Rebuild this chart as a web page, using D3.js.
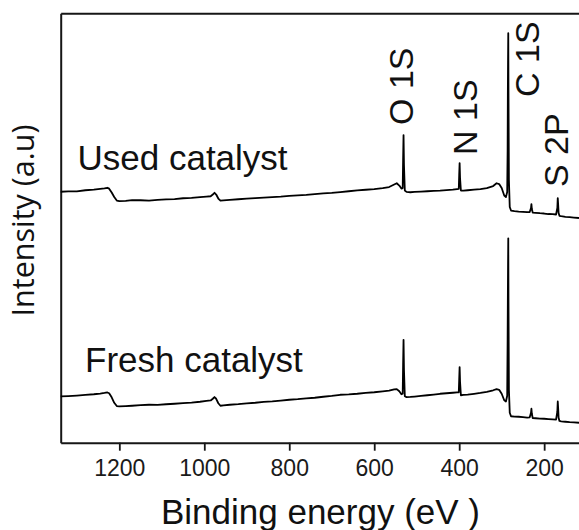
<!DOCTYPE html>
<html>
<head>
<meta charset="utf-8">
<script src="https://cdn.jsdelivr.net/npm/d3@7"></script>
<style>
  html, body { margin: 0; padding: 0; background: #fff; }
  svg { display: block; }
</style>
</head>
<body>
<svg id="chart" width="579" height="530"></svg>
<script>
// ---- data ----
const energy = [1338,1320,1300,1280,1260,1245,1235,1228,1224,1218,1212,1206,1200,1185,1170,1150,1130,1110,1090,1070,1050,1030,1010,995,985,980,976,972,967,962,955,940,920,900,880,860,840,820,800,780,760,740,720,700,680,660,640,620,600,580,565,553,547,541,536,533,532,531,530,528,524,515,505,490,475,460,445,430,415,405,401,400,399,398,396,390,380,365,350,335,320,312,306,300,294,290,287,286,285.5,285,284.5,284,283,281,278,270,260,250,240,234,231,230,229,227,220,210,200,190,180,172,169,168,167,166,164,160,150,140,130,118];

const usedIntensity = [251.3,251.7,251.6,252.8,253.4,254.2,254.6,255.3,254.4,250.5,246,242.5,242,242.2,242.9,242.8,242.5,243.2,243.7,244.0,244.8,245.2,246.0,246.5,246.8,248.5,250.3,248.5,244.5,242.4,242.7,243.2,243.8,244.4,245.0,245.5,246.0,246.5,247.2,247.7,248.2,249.0,249.6,250.2,251.0,251.8,252.6,253.3,254.0,255.0,256.0,258.5,259.8,257.5,254.5,255,283,308,278,252.5,251.2,250.8,251.1,251.4,251.8,252.2,252.5,253.0,253.5,254.0,254.2,268,280,265,252.5,252.4,252.8,253.4,254.0,255.0,257.0,259.8,259.0,255.0,247.5,246,251,293,348,383,410,353,263,236,232.5,232.0,231.5,231.2,230.8,231,235,239,234,230.5,230.2,229.8,229.5,229.0,228.8,228.5,235,245,238,230,227.2,226.8,226.2,225.8,225.4,225];

const freshIntensity = [46.3,46.7,47.2,47.8,48.5,49.2,49.8,50.3,49.5,45.5,40,36.7,36.3,36.6,37.0,37.6,38.0,37.8,38.5,39.0,39.6,40.2,41.0,41.8,42.3,44.0,45.7,44.0,39.5,37.0,37.4,38.0,38.6,39.4,40.0,40.8,41.4,42.2,43.0,43.6,44.4,45.0,46.0,46.8,48.0,48.4,49.0,49.8,50.5,51.4,52.2,53.5,53.7,51.5,48.5,49,78,103,73,46.5,45.7,45.8,46.2,46.8,47.5,48.2,49.0,49.5,50.0,50.4,50.5,63,75.7,61,47.5,47.8,48.2,49.0,49.8,51.0,52.5,53.7,53.0,49,42.5,41.3,47,103,143,178,204.7,143,53,30,26.5,26.2,26.0,25.6,25.2,25.4,30,34,29,24.7,24.5,24.2,24.0,23.7,23.4,23.2,31,41.3,34,25,21.8,21.4,21.0,20.6,20.3,20];

const xTicks = [1200, 1000, 800, 600, 400, 200];
const seriesLabels = ["Used catalyst", "Fresh catalyst"];
const peakLabels = ["O 1S", "N 1S", "C 1S", "S 2P"];
const peakEnergies = [531, 399, 284.5, 168];
const xTitle = "Binding energy (eV )";
const yTitle = "Intensity (a.u)";

// ---- layout ----
const svg = d3.select("#chart");
const mLeft = 60.7, mRight = 579, mTop = 13.3, mBottom = 442.7;

const x = d3.scaleLinear().domain([1338, 118]).range([mLeft, mRight]);
const y = d3.scaleLinear().domain([0, 430]).range([mBottom, mTop]);

const frameColor = "#161616";

// axes / frame
const xAxis = svg.append("g")
  .attr("transform", `translate(0,${mBottom})`)
  .call(d3.axisBottom(x).tickValues(xTicks).tickSize(8).tickSizeOuter(0).tickFormat(d3.format("d")));
xAxis.select(".domain").attr("stroke", frameColor).attr("stroke-width", 2);
xAxis.selectAll(".tick line").attr("stroke", frameColor).attr("stroke-width", 1.8);
xAxis.selectAll(".tick text")
  .attr("y", 17)
  .attr("fill", "#1a1a1a")
  .style("font-family", "'Liberation Sans', Arial, sans-serif")
  .style("font-size", "23px");

const yAxis = svg.append("g")
  .attr("transform", `translate(${mLeft},0)`)
  .call(d3.axisLeft(y).tickValues([]).tickSizeOuter(0));
yAxis.select(".domain").attr("stroke", frameColor).attr("stroke-width", 2);

const topAxis = svg.append("g")
  .attr("transform", `translate(0,${mTop})`)
  .call(d3.axisTop(x).tickValues([]).tickSizeOuter(0));
topAxis.select(".domain").attr("stroke", frameColor).attr("stroke-width", 2);

// spectra
const line = d3.line()
  .x((d, i) => x(energy[i]))
  .y(d => y(d));

[usedIntensity, freshIntensity].forEach(series => {
  svg.append("path")
    .datum(series)
    .attr("d", line)
    .attr("fill", "none")
    .attr("stroke", "#000")
    .attr("stroke-width", 1.8)
    .attr("stroke-linejoin", "round");
});

// series labels
const labelFont = "'Liberation Sans', Arial, sans-serif";
svg.append("text").attr("x", 77.5).attr("y", 170)
  .style("font-family", labelFont).style("font-size", "35px").attr("fill", "#111")
  .text(seriesLabels[0]);
svg.append("text").attr("x", 85).attr("y", 372)
  .style("font-family", labelFont).style("font-size", "35px").attr("fill", "#111")
  .text(seriesLabels[1]);

// peak labels (rotated)
const peakOffsets = [{dx: 9, yStart: 125}, {dx: 17, yStart: 155}, {dx: 31, yStart: 97}, {dx: 10, yStart: 187}];
peakLabels.forEach((lab, i) => {
  const px = x(peakEnergies[i]) + peakOffsets[i].dx;
  svg.append("text")
    .attr("transform", `translate(${px},${peakOffsets[i].yStart}) rotate(-90)`)
    .style("font-family", labelFont).style("font-size", "34px").attr("fill", "#111")
    .text(lab);
});

// axis titles
svg.append("text")
  .attr("x", 320.5).attr("y", 523.5)
  .attr("text-anchor", "middle")
  .style("font-family", labelFont).style("font-size", "35px").attr("fill", "#111")
  .text(xTitle);

svg.append("text")
  .attr("transform", "translate(34,220.5) rotate(-90)")
  .attr("text-anchor", "middle")
  .style("font-family", "'Open Sans', 'Noto Sans', sans-serif").style("font-size", "30.5px").attr("fill", "#111")
  .text(yTitle);
</script>
</body>
</html>
